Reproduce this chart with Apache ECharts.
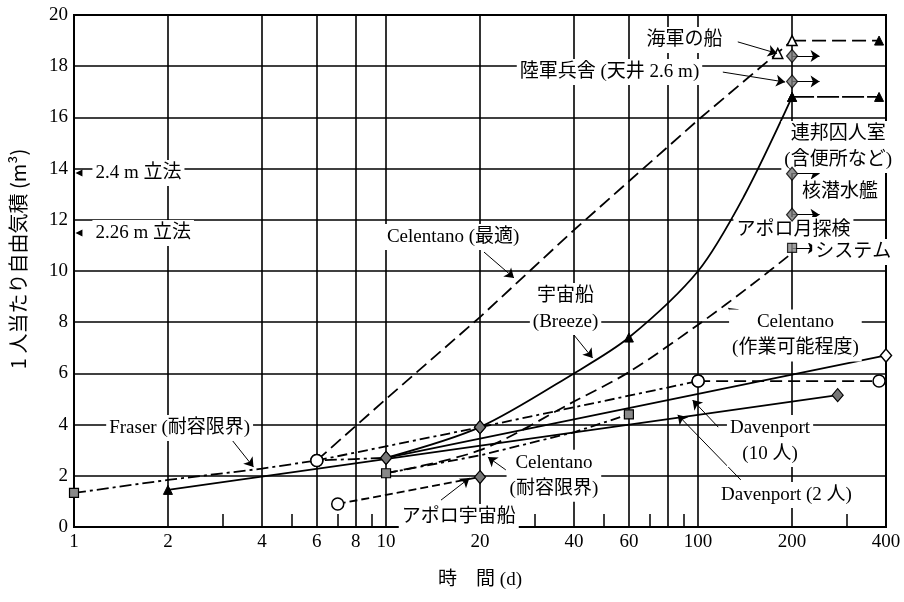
<!DOCTYPE html>
<html>
<head>
<meta charset="utf-8">
<title>1人当たり自由気積</title>
<script src="https://cdn.jsdelivr.net/npm/echarts@6/dist/echarts.min.js"></script>
<style>
    html, body { margin: 0; padding: 0; background: #fff; }
    #chart { width: 904px; height: 602px; }
</style>
</head>
<body>
<div id="chart"></div>
<script>
// 横軸 (日数) の目盛
var gridDays = [1, 2, 4, 6, 8, 10, 20, 40, 60, 80, 100, 200, 400];
var labelDays = [1, 2, 4, 6, 8, 10, 20, 40, 60, 100, 200, 400];
var minorDays = [3, 5, 7, 9, 30, 50, 70, 90, 300];

// 各曲線 [日数, m3]
var celentanoOpt = [[6, 2.6], [10, 5.0], [20, 8.2], [40, 11.6], [100, 15.9], [200, 19.0]];
var breeze = [[10, 2.7], [20, 3.9], [40, 6.0], [60, 7.4], [100, 10.0], [140, 12.9], [200, 16.8]];
var celentanoWork = [[10, 2.1], [20, 3.0], [40, 4.9], [60, 6.05], [100, 7.9], [150, 9.5], [200, 10.7]];
var celentanoTol = [[10, 2.1], [20, 2.8], [40, 3.7], [60, 4.4]];
var fraser = [[1, 1.33], [2, 1.84], [4, 2.28], [6, 2.6], [10, 2.7]];
var davenport2 = [[2, 1.45], [280, 5.15]];
var davenport10 = [[10, 2.7], [400, 6.7]];
var circleLine = [[6, 2.6], [20, 3.9], [100, 5.7]];
var circleFlat = [[100, 5.7], [380, 5.7]];
var apollo = [[7, 0.9], [20, 1.95]];
var navyFlat = [[200, 19.0], [380, 19.0]];
var flat168 = [[200, 16.8], [380, 16.8]];
var navyPoint = [[180, 18.5]];

// 200日の点 → 矢印
var pointers = [[200, 18.4], [200, 17.4], [200, 13.8], [200, 12.2], [200, 10.9]];
var pointerEnd = [245, 245, 245, 245, 240];

// 記号
var breezeMarks = ['dia', 'dia', 'none', 'tri', 'none', 'none', 'tri'];
var optMarks = ['oc', 'none', 'none', 'none', 'none', 'none'];
var workMarks = ['none', 'none', 'none', 'none', 'none', 'none', 'none'];
var tolMarks = ['sq', 'none', 'none', 'sq'];
var fraserMarks = ['sq', 'none', 'none', 'none', 'none'];
var pointerMarks = ['dia', 'dia', 'dia', 'dia', 'sq'];

var SERIF = '"Liberation Serif", "Noto Sans CJK JP"';
var GOTHIC = '"Noto Sans CJK JP"';

var MARK = {
    sq: { symbol: 'rect', symbolSize: 9, itemStyle: { color: '#888', borderColor: '#000', borderWidth: 1.2 } },
    dia: { symbol: 'diamond', symbolSize: [11, 13], itemStyle: { color: '#777', borderColor: '#000', borderWidth: 1.2 } },
    odia: { symbol: 'diamond', symbolSize: [11, 13], itemStyle: { color: '#fff', borderColor: '#000', borderWidth: 1.5 } },
    oc: { symbol: 'circle', symbolSize: 12, itemStyle: { color: '#fff', borderColor: '#000', borderWidth: 1.5 } },
    tri: { symbol: 'triangle', symbolSize: 9, itemStyle: { color: '#000', borderColor: '#000', borderWidth: 1 } },
    otri: { symbol: 'triangle', symbolSize: 10, itemStyle: { color: '#fff', borderColor: '#000', borderWidth: 1.5 } },
    none: { symbol: 'none' }
};

function extend(a, b) {
    for (var k in b) a[k] = b[k];
    return a;
}

function withMarks(points, marks) {
    return points.map(function (p, i) {
        return extend({ value: p }, MARK[marks[i] || 'none']);
    });
}

function curve(name, points, marks, dash, smooth) {
    return {
        name: name,
        type: 'line',
        xAxisIndex: 0,
        yAxisIndex: 0,
        data: withMarks(points, marks),
        symbol: 'none',
        showSymbol: true,
        smooth: smooth || false,
        silent: true,
        lineStyle: { color: '#000', width: 1.8, type: dash },
        itemStyle: { color: '#000' },
        z: 3
    };
}

var lg = function (v) { return Math.log10(v); };

// 注記文字 [日数, m3, 文字]
var notes = [
    [90.5, 19.02, '海軍の船'],
    [52, 17.77, '陸軍兵舎 (天井 2.6 m)'],
    [281, 14.84, '連邦囚人室\n(含便所など)'],
    [285, 13.09, '核潜水艦'],
    [202, 11.6, 'アポロ月探検'],
    [314, 10.74, 'システム'],
    [16.4, 11.33, 'Celentano (最適)'],
    [37.6, 8.52, '宇宙船\n(Breeze)'],
    [205, 7.48, 'Celentano\n(作業可能程度)'],
    [2.18, 3.87, 'Fraser (耐容限界)'],
    [170, 3.36, 'Davenport\n(10 人)'],
    [192, 1.25, 'Davenport (2 人)'],
    [34.5, 2.0, 'Celentano\n(耐容限界)'],
    [17.1, 0.39, 'アポロ宇宙船']
];
// 引出線 [x1, y1, x2, y2]
var leaders = [
    [134, 18.95, 179, 18.5],
    [120, 17.77, 190, 17.38],
    [20.6, 10.74, 25.7, 9.73],
    [40, 7.5, 45.9, 6.6],
    [142, 8.0, 125, 8.55],
    [3.15, 3.52, 3.76, 2.34],
    [116, 3.9, 96, 4.96],
    [137, 1.84, 86, 4.38],
    [24.2, 2.23, 21.2, 2.73],
    [15.0, 1.05, 18.5, 1.91]
];
// 左端の立法
var cubes = [[13.83, '2.4 m 立法'], [11.48, '2.26 m 立法']];

var noteSeries = {
    type: 'line',
    xAxisIndex: 0,
    yAxisIndex: 0,
    data: [],
    silent: true,
    z: 10,
    markLine: {
        silent: true,
        animation: false,
        symbol: ['none', 'arrow'],
        symbolSize: 9,
        label: { show: false },
        lineStyle: { color: '#000', width: 1, type: 'solid' },
        itemStyle: { color: '#000' },
        data: leaders.map(function (l) {
            return [{ coord: [l[0], l[1]] }, { coord: [l[2], l[3]] }];
        }).concat(pointers.map(function (p, i) {
            return [{ coord: [p[0], p[1]] }, { coord: [pointerEnd[i], p[1]] }];
        }))
    },
    markPoint: {
        silent: true,
        animation: false,
        symbol: 'circle',
        symbolSize: 1,
        itemStyle: { color: 'rgba(0,0,0,0)' },
        label: {
            show: true,
            position: 'inside',
            align: 'center',
            verticalAlign: 'middle',
            color: '#000',
            fontSize: 19,
            lineHeight: 26,
            fontFamily: SERIF,
            backgroundColor: '#fff',
            padding: [0, 3]
        },
        data: notes.map(function (n) {
            return { coord: [n[0], n[1]], label: { formatter: n[2] } };
        }).concat(cubes.map(function (c) {
            return {
                coord: [1.037, c[0]],
                symbol: 'triangle',
                symbolRotate: 90,
                symbolSize: 7,
                itemStyle: { color: '#000' },
                label: { formatter: c[1], position: 'right', align: 'left', distance: 10 }
            };
        }))
    }
};

var pointerSeries = {
    type: 'scatter',
    xAxisIndex: 0,
    yAxisIndex: 0,
    silent: true,
    data: withMarks(pointers, pointerMarks),
    z: 11
};

var chart = echarts.init(document.getElementById('chart'));
chart.setOption({
    backgroundColor: '#fff',
    animation: false,
    grid: { left: 72, right: 18, top: 15, bottom: 75, show: true, borderColor: '#000', borderWidth: 2, backgroundColor: 'transparent' },
    xAxis: [
        {
            type: 'log', logBase: 10, min: 1, max: 400,
            axisLine: { show: false }, axisTick: { show: false },
            axisLabel: { show: false }, splitLine: { show: false }
        },
        {
            type: 'value', min: 0, max: lg(400), position: 'bottom',
            axisLine: { show: false },
            axisTick: { show: false, customValues: gridDays.map(lg) },
            splitLine: { show: true, lineStyle: { color: '#000', width: 1.6 } },
            axisLabel: {
                customValues: labelDays.map(lg),
                formatter: function (v) { return Math.round(Math.pow(10, v)); },
                color: '#000', fontSize: 19, fontFamily: SERIF, margin: 6
            },
            name: '時　間 (d)', nameLocation: 'middle', nameGap: 44,
            nameTextStyle: { color: '#000', fontSize: 19, fontFamily: SERIF }
        },
        {
            type: 'value', min: 0, max: lg(400), position: 'bottom',
            axisLine: { show: false },
            axisTick: { show: true, inside: true, length: 13, customValues: minorDays.map(lg), lineStyle: { color: '#000', width: 1.5 } },
            axisLabel: { show: false }, splitLine: { show: false }
        }
    ],
    yAxis: {
        type: 'value', min: 0, max: 20, interval: 2,
        axisLine: { show: false }, axisTick: { show: false },
        axisLabel: { color: '#000', fontSize: 19, fontFamily: SERIF, margin: 6 },
        splitLine: { lineStyle: { color: '#000', width: 1.6 } },
        name: '1 人当たり自由気積 (m³)', nameLocation: 'middle', nameGap: 46, nameRotate: 90,
        nameTextStyle: { color: '#000', fontSize: 20, fontFamily: GOTHIC, padding: [0, 0, 0, 24] }
    },
    series: [
        curve('Celentano (最適)', celentanoOpt, optMarks, [13, 6]),
        curve('宇宙船 (Breeze)', breeze, breezeMarks, 'solid', 0.3),
        curve('Celentano (作業可能程度)', celentanoWork, workMarks, [12, 6], 0.3),
        curve('Celentano (耐容限界)', celentanoTol, tolMarks, [10, 4, 3, 4]),
        curve('Fraser (耐容限界)', fraser, fraserMarks, [12, 4, 3, 4]),
        curve('Davenport (2 人)', davenport2, ['tri', 'dia'], 'solid'),
        curve('Davenport (10 人)', davenport10, ['dia', 'odia'], 'solid'),
        curve('circle', circleLine, ['oc', 'dia', 'oc'], [10, 4, 3, 4]),
        curve('circle flat', circleFlat, ['oc', 'oc'], [12, 6]),
        curve('アポロ宇宙船', apollo, ['oc', 'dia'], [8, 4]),
        curve('海軍の船', navyFlat, ['otri', 'tri'], [14, 6]),
        curve('16.8', flat168, ['tri', 'tri'], [22, 3]),
        curve('navy point', navyPoint, ['otri'], 'solid'),
        pointerSeries,
        noteSeries
    ]
});
</script>
</body>
</html>
